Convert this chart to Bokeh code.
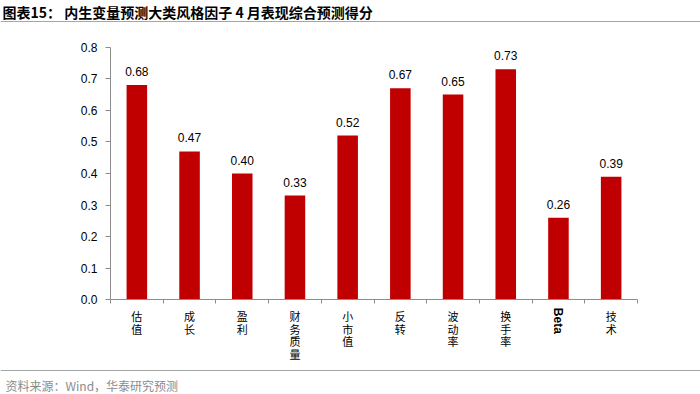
from bokeh.plotting import figure
from bokeh.models import (ColumnDataSource, LabelSet, Label, BoxAnnotation,
                          FixedTicker, Range1d)
from bokeh.core.properties import value
from bokeh.embed import file_html
from bokeh.resources import INLINE

categories = ["估值", "成长", "盈利", "财务质量", "小市值", "反转", "波动率", "换手率", "Beta", "技术"]
scores = [0.68, 0.47, 0.40, 0.33, 0.52, 0.67, 0.65, 0.73, 0.26, 0.39]
y_ticks = [0.0, 0.1, 0.2, 0.3, 0.4, 0.5, 0.6, 0.7, 0.8]
title_text = "图表15：  内生变量预测大类风格因子 4 月表现综合预测得分"
source_text = "资料来源：Wind，华泰研究预测"

# ---- layout (canvas pixels) ----
W, H = 700, 394
AX_L, AX_R = 110.0, 637.0      # x-axis extent
AX_T, AX_B = 46.7, 299.3       # y-axis extent (top value / zero)
RED = "#C00000"
GREY = "#8C8C8C"
LINE_GREY = "#A6A6A6"
NUM_FONT = "Liberation Sans"
CJK_FONT = "Noto Sans CJK SC"

n = len(categories)
ymax = y_ticks[-1]
ux = (AX_R - AX_L) / n
uy = (AX_B - AX_T) / ymax
x_start = 0.5 - AX_L / ux
x_end = n + 0.5 + (W - AX_R) / ux
y_start = -(H - AX_B) / uy
y_end = ymax + AX_T / uy

xs = list(range(1, n + 1))
src = ColumnDataSource(dict(x=xs, y=scores, label=[f"{v:.2f}" for v in scores]))

p = figure(width=W, height=H, output_backend="svg", toolbar_location=None,
           x_range=Range1d(x_start, x_end), y_range=Range1d(y_start, y_end),
           min_border=0, min_border_left=0, min_border_right=0,
           min_border_top=0, min_border_bottom=0)
p.title.visible = False
p.outline_line_color = None
p.grid.visible = False
p.background_fill_color = "white"
p.border_fill_color = "white"

p.vbar(x="x", top="y", width=0.39, source=src, fill_color=RED, line_color=None)

p.add_layout(LabelSet(x="x", y="y", text="label", source=src, y_offset=9,
                      text_align="center", text_baseline="bottom",
                      text_font=value(NUM_FONT), text_font_size=value("12px"),
                      text_color="black"))

# y axis (drawn at the left edge of the categories)
ya = p.yaxis[0]
ya.fixed_location = 0.5
ya.bounds = (y_ticks[0], ymax)
ya.ticker = FixedTicker(ticks=y_ticks)
ya.major_label_overrides = {t: f"{t:.1f}" for t in y_ticks}
ya.axis_line_color = GREY
ya.major_tick_line_color = GREY
ya.major_tick_in = 0
ya.major_tick_out = 5
ya.minor_tick_line_color = None
ya.major_label_standoff = 8
ya.major_label_text_font = NUM_FONT
ya.major_label_text_font_size = "12px"
ya.major_label_text_color = "black"

# x axis (drawn at zero)
xa = p.xaxis[0]
xa.fixed_location = 0
xa.bounds = (0.5, n + 0.5)
xa.ticker = FixedTicker(ticks=xs, minor_ticks=[x - 0.5 for x in xs] + [xs[-1] + 0.5])
xa.axis_line_color = GREY
xa.major_tick_line_color = None
xa.major_tick_in = 0
xa.major_tick_out = 0
xa.minor_tick_line_color = GREY
xa.minor_tick_in = 0
xa.minor_tick_out = 4
xa.major_label_standoff = 4
xa.major_label_text_font = CJK_FONT
xa.major_label_text_font_size = "11px"
xa.major_label_text_color = "black"
xa.major_label_text_line_height = 0.8
xa.major_label_text_baseline = "top"
xa.major_label_overrides = {float(x): ("" if c.isascii() else "\n".join(c)) for x, c in zip(xs, categories)}

for x, c in zip(xs, categories):
    if c.isascii():
        p.add_layout(Label(x=x, y=0, y_offset=-8, text=c, angle=-90, angle_units="deg",
                           text_align="left", text_baseline="middle",
                           text_font=NUM_FONT, text_font_size="12px", text_font_style="bold",
                           text_color="black"))

# title, footer, separators (screen units: origin at the frame's bottom-left = canvas bottom-left)
p.add_layout(Label(x=2, y=H - 11.5, x_units="screen", y_units="screen", text=title_text,
                   text_font=CJK_FONT, text_font_size="14px", text_font_style="bold",
                   text_color="black", text_baseline="middle", text_align="left"))
for cy in (20.5, 369.5):
    p.add_layout(BoxAnnotation(left=0, right=W, bottom=H - cy - 1, top=H - cy,
                               left_units="screen", right_units="screen",
                               bottom_units="screen", top_units="screen",
                               fill_color=LINE_GREY, fill_alpha=1, line_color=None))
p.add_layout(Label(x=5, y=H - 384.5, x_units="screen", y_units="screen", text=source_text,
                   text_font=CJK_FONT, text_font_size="12px",
                   text_color="#8C8C8C", text_baseline="middle", text_align="left"))

open("out.html", "w").write(file_html(p, INLINE))
